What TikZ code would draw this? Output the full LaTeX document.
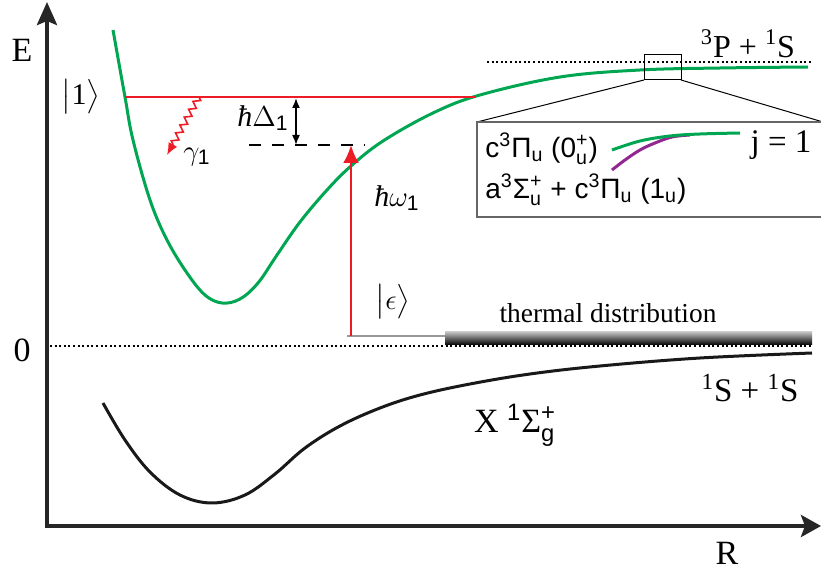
\documentclass[tikz,border=0pt]{standalone}
\usepackage{fontspec}
\usepackage{amsmath}
\setmainfont{Liberation Serif}
\setsansfont{Liberation Sans}
\usetikzlibrary{arrows.meta, decorations.pathmorphing}
\definecolor{potgreen}{RGB}{0,166,81}
\definecolor{laserred}{RGB}{237,28,36}
\definecolor{mixpurple}{RGB}{146,39,143}
\newcommand{\hbr}{\textit{ħ}}

\begin{document}
\begin{tikzpicture}[x=0.5pt, y=-0.5pt,
    axis/.style={line width=2pt, draw=black!85, line join=miter},
    curve/.style={line width=1.5pt},
    level/.style={laserred, line width=1.3pt},
    asym/.style={line width=1pt, dash pattern=on 1pt off 1.3pt},
    biglbl/.style={inner sep=0pt, font=\fontsize{17}{20}\selectfont},
    midlbl/.style={inner sep=0pt, font=\fontsize{15}{18}\selectfont},
    smalllbl/.style={inner sep=0pt, font=\fontsize{13.7}{16}\selectfont},
    insetlbl/.style={inner sep=0pt, anchor=west, font=\sffamily\fontsize{14}{17}\selectfont}]
    \useasboundingbox (0,0) rectangle (821,572);

    \coordinate (etop) at (47,2);
    \coordinate (origin) at (47,526);
    \coordinate (rend) at (821,526);
    \draw[axis, {Stealth[length=11.5pt,width=10pt,inset=2pt]}-{Stealth[length=10pt,width=11pt,inset=2pt]}] (etop) -- (origin) -- (rend);

    \node[biglbl] (elbl) at (22,50) {E};
    \node[biglbl] (zero) at (22,350) {0};
    \node[biglbl] (rlbl) at (727,553) {R};

    \coordinate (zeroL) at (50,346);
    \coordinate (zeroR) at (812,346);
    \coordinate (asymL) at (487,62);
    \coordinate (asymR) at (812,62);
    \draw[asym] (zeroL) -- (zeroR);
    \draw[asym] (asymL) -- (asymR);

    \shade[top color=black!25, bottom color=black] (445,332) rectangle (812,345);
    \coordinate (eps) at (347,336);
    \coordinate (barL) at (445,336);
    \draw[black!40, line width=1.2pt] (eps) -- (barL);

    \draw[curve, potgreen] plot[smooth, tension=0.6] coordinates {(113,30) (125,97) (133,140) (150,200) (167,240) (187,273) (205,295) (222,303) (240,299) (258,283) (277,255) (300,222) (327,190) (351,166) (383,141) (433,113) (480,95) (560,77) (640,70) (720,68) (808,67)};
    \draw[curve, black!90] plot[smooth, tension=0.6] coordinates {(103,403) (125,440) (150,472) (180,495) (212,503) (245,495) (275,474) (305,448) (340,426) (380,408) (420,395) (470,384) (530,374) (600,366) (700,358) (812,353)};

    \coordinate (lvlL) at (125,97);
    \coordinate (lvlR) at (476,97);
    \draw[level] (lvlL) -- (lvlR);
    \coordinate (decayS) at (199,97);
    \coordinate (decayE) at (167,155);
    \draw[laserred, line width=0.8pt, decorate, decoration={zigzag, segment length=4.5pt, amplitude=1.6pt, post length=5pt}, -{Latex[length=6pt,width=5pt]}] (decayS) -- (decayE);

    \coordinate (virtL) at (249,145);
    \coordinate (virtR) at (365,145);
    \draw[line width=1.2pt, dash pattern=on 6pt off 5.5pt] (virtL) -- (virtR);
    \coordinate (detT) at (296,98);
    \coordinate (detB) at (296,145);
    \draw[line width=0.8pt, {Latex[length=5pt,width=4pt]}-{Latex[length=5pt,width=4pt]}] (detT) -- (detB);
    \coordinate (pumpS) at (351,336);
    \coordinate (pumpE) at (351,145);
    \draw[laserred, line width=1.3pt, -{Latex[length=9pt,width=8pt]}] (pumpS) -- (pumpE);

    \node[midlbl] (ket1) at (81,97) {$\bigl|\text{1}\bigr\rangle$};
    \node[midlbl] (gam) at (197,157) {$\gamma_{\textsf{1}}$};
    \node[midlbl] (delta) at (263,118) {\hbr$\Delta_{\textsf{1}}$};
    \node[midlbl] (omega) at (397,198) {\hbr$\omega_{\textsf{1}}$};
    \node[midlbl] (keteps) at (393,302) {$\bigl|\epsilon\bigr\rangle$};
    \node[smalllbl] (therm) at (608,313) {thermal distribution};
    \node[biglbl, font=\fontsize{16}{19}\selectfont] (asymP) at (748,44) {\textsuperscript{3}P + \textsuperscript{1}S};
    \node[biglbl, font=\fontsize{16.5}{19}\selectfont] (asymS) at (750,388) {\textsuperscript{1}S + \textsuperscript{1}S};
    \node[biglbl] (xstate) at (515,425) {X \textsuperscript{\sffamily 1}Σ$^{\textsf{+}}_{\textsf{g}}$};

    \coordinate (zoomTL) at (644,55);
    \coordinate (zoomBL) at (644,80);
    \coordinate (zoomBR) at (681,80);
    \draw[line width=0.5pt] (zoomTL) rectangle (zoomBR);
    \coordinate (insetTL) at (477,122);
    \coordinate (insetTR) at (823,122);
    \coordinate (insetBL) at (477,217);
    \coordinate (insetBR) at (823,217);
    \draw[line width=0.5pt] (zoomBL) -- (insetTL);
    \draw[line width=0.5pt] (zoomBR) -- (insetTR);
    \draw[black!60, line width=0.8pt] (insetTR) -- (insetTL) -- (insetBL) -- (insetBR);

    \draw[curve, mixpurple] plot[smooth, tension=0.6] coordinates {(612,170) (625,160) (640,150) (655,143) (672,137) (690,135)};
    \draw[curve, potgreen] plot[smooth, tension=0.6] coordinates {(612,150) (640,141) (670,136) (700,134) (740,133)};
    \node[insetlbl] (cstate) at (485,149) {c$^{\text{3}}$Π$_{\text{u}}$ (0$^{\text{+}}_{\text{u}}$)};
    \node[insetlbl] (astate) at (485,190) {a$^{\text{3}}$Σ$^{\text{+}}_{\text{u}}$ + c$^{\text{3}}$Π$_{\text{u}}$ (1$_{\text{u}}$)};
    \node[biglbl, font=\fontsize{16.5}{19}\selectfont] (jlbl) at (781,145) {j = 1};
\end{tikzpicture}
\end{document}
